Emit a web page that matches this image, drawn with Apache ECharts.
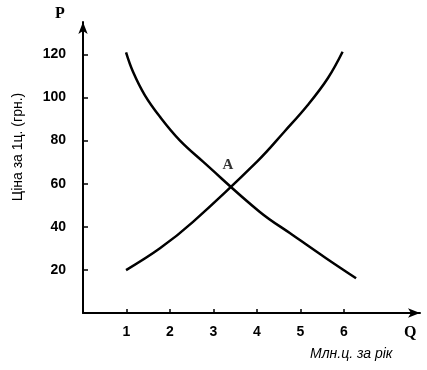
<!DOCTYPE html>
<html>
<head>
<meta charset="utf-8">
<script src="https://cdn.jsdelivr.net/npm/echarts@6/dist/echarts.min.js"></script>
<style>
html,body{margin:0;padding:0;background:#fff;}
#c{width:427px;height:370px;}
</style>
</head>
<body>
<div id="c"></div>
<script>
// Data
const demandQ = [0.99, 1.15, 1.42, 1.77, 2.22, 2.76, 4.06, 4.82, 5.59, 6.28];
const demandP = [120.9, 111.9, 101.1, 91.0, 80.2, 70.2, 47.0, 36.2, 25.4, 16.1];
const supplyQ = [0.99, 1.77, 2.53, 4.02, 4.63, 5.17, 5.63, 5.97];
const supplyP = [19.9, 30.0, 42.3, 70.6, 84.1, 96.5, 108.9, 121.2];
const equilibrium = [3.33, 58.6];
const equilibriumLabel = 'A';
const xTicks = [1, 2, 3, 4, 5, 6];
const yTicks = [20, 40, 60, 80, 100, 120];
const xName = 'Q';
const yName = 'P';
const xTitle = 'Млн.ц. за рік';
const yTitle = 'Ціна за 1ц. (грн.)';

const chart = echarts.init(document.getElementById('c'));
const pairs = (xs, ys) => xs.map((x, i) => [x, ys[i]]);
const lbl = {fontFamily: 'Liberation Sans', fontWeight: 'bold', fontSize: 14, color: '#000'};

chart.setOption({
  animation: false,
  backgroundColor: '#fff',
  grid: {left: 83, right: 7, top: 22, bottom: 57},
  xAxis: {
    type: 'value', min: 0, max: 7.75,
    splitLine: {show: false},
    axisLine: {lineStyle: {color: '#000', width: 2}, symbol: ['none', 'arrow'], symbolSize: [7, 12]},
    axisTick: {inside: true, length: 4, lineStyle: {color: '#000', width: 1.5}, customValues: xTicks},
    axisLabel: Object.assign({margin: 12, customValues: xTicks}, lbl)
  },
  yAxis: {
    type: 'value', min: 0, max: 135,
    splitLine: {show: false},
    axisLine: {lineStyle: {color: '#000', width: 2}, symbol: ['none', 'arrow'], symbolSize: [7, 12]},
    axisTick: {inside: true, length: 5, lineStyle: {color: '#000', width: 1.5}, customValues: yTicks},
    axisLabel: Object.assign({margin: 17, customValues: yTicks}, lbl)
  },
  graphic: [
    {type: 'text', left: 55, top: 6, style: {text: yName, font: 'bold 16px "Liberation Serif"', fill: '#000'}},
    {type: 'text', left: 404, top: 325, style: {text: xName, font: 'bold 16px "Liberation Serif"', fill: '#000'}},
    {type: 'text', left: 310, top: 347, style: {text: xTitle, font: 'italic 14px "Liberation Sans"', fill: '#000'}},
    {type: 'text', x: 18, y: 147, rotation: Math.PI / 2,
     style: {text: yTitle, font: '14px "Liberation Sans"', fill: '#000', align: 'center', verticalAlign: 'middle'}}
  ],
  series: [
    {type: 'line', data: pairs(demandQ, demandP), smooth: 0.4, symbol: 'none',
     lineStyle: {color: '#000', width: 2.5}},
    {type: 'line', data: pairs(supplyQ, supplyP), smooth: 0.4, symbol: 'none',
     lineStyle: {color: '#000', width: 2.5}},
    {type: 'scatter', data: [equilibrium], symbolSize: 0,
     label: {show: true, formatter: equilibriumLabel, position: 'top', distance: 14,
             fontFamily: 'Liberation Serif', fontWeight: 'bold', fontSize: 15, color: '#000'}}
  ]
});
</script>
</body>
</html>
